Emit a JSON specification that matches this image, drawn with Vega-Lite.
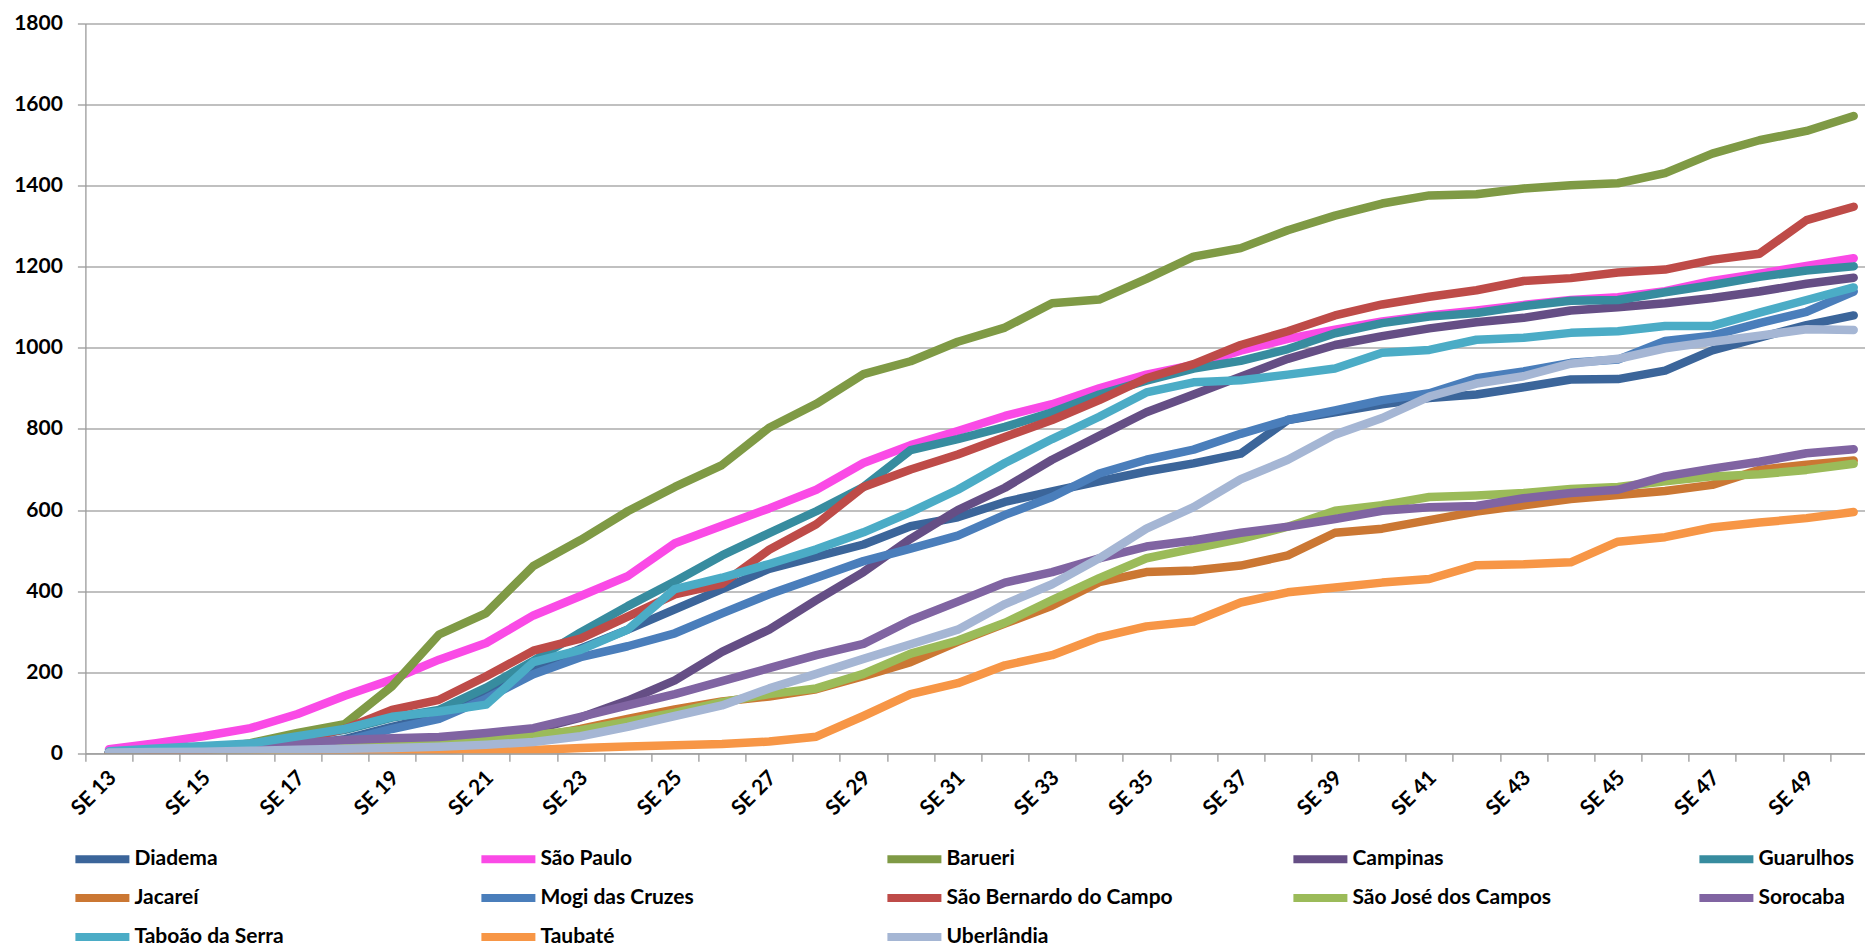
{
"$schema": "https://vega.github.io/schema/vega-lite/v6.json",
"autosize": "none",
"width": 1779.6,
"height": 729.8,
"padding": {"left": 85.4, "top": 23.5, "right": 0, "bottom": 195.7},
"background": "white",
"config": {"view": {"stroke": null}},
"datasets": {
"cases": [
{"city":"Diadema","week":13,"cases":3},{"city":"Diadema","week":14,"cases":5},{"city":"Diadema","week":15,"cases":8},{"city":"Diadema","week":16,"cases":12},{"city":"Diadema","week":17,"cases":20},{"city":"Diadema","week":18,"cases":35},{"city":"Diadema","week":19,"cases":65},{"city":"Diadema","week":20,"cases":92},{"city":"Diadema","week":21,"cases":145},{"city":"Diadema","week":22,"cases":210},{"city":"Diadema","week":23,"cases":258},{"city":"Diadema","week":24,"cases":305},{"city":"Diadema","week":25,"cases":355},{"city":"Diadema","week":26,"cases":405},{"city":"Diadema","week":27,"cases":455},{"city":"Diadema","week":28,"cases":485},{"city":"Diadema","week":29,"cases":515},{"city":"Diadema","week":30,"cases":560},{"city":"Diadema","week":31,"cases":582},{"city":"Diadema","week":32,"cases":620},{"city":"Diadema","week":33,"cases":646},{"city":"Diadema","week":34,"cases":671},{"city":"Diadema","week":35,"cases":695},{"city":"Diadema","week":36,"cases":715},{"city":"Diadema","week":37,"cases":739},{"city":"Diadema","week":38,"cases":822},{"city":"Diadema","week":39,"cases":841},{"city":"Diadema","week":40,"cases":861},{"city":"Diadema","week":41,"cases":876},{"city":"Diadema","week":42,"cases":885},{"city":"Diadema","week":43,"cases":903},{"city":"Diadema","week":44,"cases":922},{"city":"Diadema","week":45,"cases":923},{"city":"Diadema","week":46,"cases":944},{"city":"Diadema","week":47,"cases":994},{"city":"Diadema","week":48,"cases":1025},{"city":"Diadema","week":49,"cases":1056},{"city":"Diadema","week":50,"cases":1080},
{"city":"São Paulo","week":13,"cases":10},{"city":"São Paulo","week":14,"cases":25},{"city":"São Paulo","week":15,"cases":42},{"city":"São Paulo","week":16,"cases":62},{"city":"São Paulo","week":17,"cases":97},{"city":"São Paulo","week":18,"cases":142},{"city":"São Paulo","week":19,"cases":182},{"city":"São Paulo","week":20,"cases":231},{"city":"São Paulo","week":21,"cases":272},{"city":"São Paulo","week":22,"cases":340},{"city":"São Paulo","week":23,"cases":388},{"city":"São Paulo","week":24,"cases":437},{"city":"São Paulo","week":25,"cases":518},{"city":"São Paulo","week":26,"cases":561},{"city":"São Paulo","week":27,"cases":604},{"city":"São Paulo","week":28,"cases":650},{"city":"São Paulo","week":29,"cases":716},{"city":"São Paulo","week":30,"cases":760},{"city":"São Paulo","week":31,"cases":795},{"city":"São Paulo","week":32,"cases":832},{"city":"São Paulo","week":33,"cases":861},{"city":"São Paulo","week":34,"cases":900},{"city":"São Paulo","week":35,"cases":934},{"city":"São Paulo","week":36,"cases":958},{"city":"São Paulo","week":37,"cases":993},{"city":"São Paulo","week":38,"cases":1022},{"city":"São Paulo","week":39,"cases":1045},{"city":"São Paulo","week":40,"cases":1065},{"city":"São Paulo","week":41,"cases":1080},{"city":"São Paulo","week":42,"cases":1092},{"city":"São Paulo","week":43,"cases":1106},{"city":"São Paulo","week":44,"cases":1118},{"city":"São Paulo","week":45,"cases":1125},{"city":"São Paulo","week":46,"cases":1140},{"city":"São Paulo","week":47,"cases":1165},{"city":"São Paulo","week":48,"cases":1183},{"city":"São Paulo","week":49,"cases":1202},{"city":"São Paulo","week":50,"cases":1221},
{"city":"Barueri","week":13,"cases":0},{"city":"Barueri","week":14,"cases":3},{"city":"Barueri","week":15,"cases":8},{"city":"Barueri","week":16,"cases":25},{"city":"Barueri","week":17,"cases":50},{"city":"Barueri","week":18,"cases":72},{"city":"Barueri","week":19,"cases":165},{"city":"Barueri","week":20,"cases":293},{"city":"Barueri","week":21,"cases":346},{"city":"Barueri","week":22,"cases":462},{"city":"Barueri","week":23,"cases":526},{"city":"Barueri","week":24,"cases":597},{"city":"Barueri","week":25,"cases":657},{"city":"Barueri","week":26,"cases":711},{"city":"Barueri","week":27,"cases":803},{"city":"Barueri","week":28,"cases":862},{"city":"Barueri","week":29,"cases":935},{"city":"Barueri","week":30,"cases":967},{"city":"Barueri","week":31,"cases":1015},{"city":"Barueri","week":32,"cases":1050},{"city":"Barueri","week":33,"cases":1110},{"city":"Barueri","week":34,"cases":1119},{"city":"Barueri","week":35,"cases":1170},{"city":"Barueri","week":36,"cases":1225},{"city":"Barueri","week":37,"cases":1246},{"city":"Barueri","week":38,"cases":1290},{"city":"Barueri","week":39,"cases":1326},{"city":"Barueri","week":40,"cases":1356},{"city":"Barueri","week":41,"cases":1376},{"city":"Barueri","week":42,"cases":1379},{"city":"Barueri","week":43,"cases":1393},{"city":"Barueri","week":44,"cases":1401},{"city":"Barueri","week":45,"cases":1406},{"city":"Barueri","week":46,"cases":1431},{"city":"Barueri","week":47,"cases":1479},{"city":"Barueri","week":48,"cases":1512},{"city":"Barueri","week":49,"cases":1535},{"city":"Barueri","week":50,"cases":1572},
{"city":"Campinas","week":13,"cases":2},{"city":"Campinas","week":14,"cases":3},{"city":"Campinas","week":15,"cases":5},{"city":"Campinas","week":16,"cases":8},{"city":"Campinas","week":17,"cases":14},{"city":"Campinas","week":18,"cases":22},{"city":"Campinas","week":19,"cases":28},{"city":"Campinas","week":20,"cases":33},{"city":"Campinas","week":21,"cases":42},{"city":"Campinas","week":22,"cases":58},{"city":"Campinas","week":23,"cases":88},{"city":"Campinas","week":24,"cases":130},{"city":"Campinas","week":25,"cases":180},{"city":"Campinas","week":26,"cases":250},{"city":"Campinas","week":27,"cases":305},{"city":"Campinas","week":28,"cases":378},{"city":"Campinas","week":29,"cases":447},{"city":"Campinas","week":30,"cases":529},{"city":"Campinas","week":31,"cases":600},{"city":"Campinas","week":32,"cases":655},{"city":"Campinas","week":33,"cases":724},{"city":"Campinas","week":34,"cases":783},{"city":"Campinas","week":35,"cases":841},{"city":"Campinas","week":36,"cases":885},{"city":"Campinas","week":37,"cases":929},{"city":"Campinas","week":38,"cases":973},{"city":"Campinas","week":39,"cases":1007},{"city":"Campinas","week":40,"cases":1029},{"city":"Campinas","week":41,"cases":1048},{"city":"Campinas","week":42,"cases":1063},{"city":"Campinas","week":43,"cases":1074},{"city":"Campinas","week":44,"cases":1092},{"city":"Campinas","week":45,"cases":1100},{"city":"Campinas","week":46,"cases":1110},{"city":"Campinas","week":47,"cases":1123},{"city":"Campinas","week":48,"cases":1139},{"city":"Campinas","week":49,"cases":1158},{"city":"Campinas","week":50,"cases":1173},
{"city":"Guarulhos","week":13,"cases":3},{"city":"Guarulhos","week":14,"cases":8},{"city":"Guarulhos","week":15,"cases":14},{"city":"Guarulhos","week":16,"cases":20},{"city":"Guarulhos","week":17,"cases":38},{"city":"Guarulhos","week":18,"cases":58},{"city":"Guarulhos","week":19,"cases":88},{"city":"Guarulhos","week":20,"cases":107},{"city":"Guarulhos","week":21,"cases":162},{"city":"Guarulhos","week":22,"cases":228},{"city":"Guarulhos","week":23,"cases":298},{"city":"Guarulhos","week":24,"cases":363},{"city":"Guarulhos","week":25,"cases":424},{"city":"Guarulhos","week":26,"cases":488},{"city":"Guarulhos","week":27,"cases":543},{"city":"Guarulhos","week":28,"cases":597},{"city":"Guarulhos","week":29,"cases":657},{"city":"Guarulhos","week":30,"cases":748},{"city":"Guarulhos","week":31,"cases":775},{"city":"Guarulhos","week":32,"cases":805},{"city":"Guarulhos","week":33,"cases":841},{"city":"Guarulhos","week":34,"cases":885},{"city":"Guarulhos","week":35,"cases":919},{"city":"Guarulhos","week":36,"cases":949},{"city":"Guarulhos","week":37,"cases":968},{"city":"Guarulhos","week":38,"cases":997},{"city":"Guarulhos","week":39,"cases":1036},{"city":"Guarulhos","week":40,"cases":1061},{"city":"Guarulhos","week":41,"cases":1077},{"city":"Guarulhos","week":42,"cases":1086},{"city":"Guarulhos","week":43,"cases":1103},{"city":"Guarulhos","week":44,"cases":1116},{"city":"Guarulhos","week":45,"cases":1118},{"city":"Guarulhos","week":46,"cases":1137},{"city":"Guarulhos","week":47,"cases":1155},{"city":"Guarulhos","week":48,"cases":1175},{"city":"Guarulhos","week":49,"cases":1191},{"city":"Guarulhos","week":50,"cases":1201},
{"city":"Jacareí","week":13,"cases":0},{"city":"Jacareí","week":14,"cases":0},{"city":"Jacareí","week":15,"cases":0},{"city":"Jacareí","week":16,"cases":0},{"city":"Jacareí","week":17,"cases":0},{"city":"Jacareí","week":18,"cases":1},{"city":"Jacareí","week":19,"cases":3},{"city":"Jacareí","week":20,"cases":6},{"city":"Jacareí","week":21,"cases":18},{"city":"Jacareí","week":22,"cases":38},{"city":"Jacareí","week":23,"cases":60},{"city":"Jacareí","week":24,"cases":85},{"city":"Jacareí","week":25,"cases":108},{"city":"Jacareí","week":26,"cases":128},{"city":"Jacareí","week":27,"cases":140},{"city":"Jacareí","week":28,"cases":158},{"city":"Jacareí","week":29,"cases":190},{"city":"Jacareí","week":30,"cases":225},{"city":"Jacareí","week":31,"cases":275},{"city":"Jacareí","week":32,"cases":320},{"city":"Jacareí","week":33,"cases":364},{"city":"Jacareí","week":34,"cases":422},{"city":"Jacareí","week":35,"cases":447},{"city":"Jacareí","week":36,"cases":451},{"city":"Jacareí","week":37,"cases":463},{"city":"Jacareí","week":38,"cases":488},{"city":"Jacareí","week":39,"cases":544},{"city":"Jacareí","week":40,"cases":554},{"city":"Jacareí","week":41,"cases":575},{"city":"Jacareí","week":42,"cases":596},{"city":"Jacareí","week":43,"cases":612},{"city":"Jacareí","week":44,"cases":627},{"city":"Jacareí","week":45,"cases":637},{"city":"Jacareí","week":46,"cases":647},{"city":"Jacareí","week":47,"cases":662},{"city":"Jacareí","week":48,"cases":699},{"city":"Jacareí","week":49,"cases":712},{"city":"Jacareí","week":50,"cases":722},
{"city":"Mogi das Cruzes","week":13,"cases":2},{"city":"Mogi das Cruzes","week":14,"cases":4},{"city":"Mogi das Cruzes","week":15,"cases":7},{"city":"Mogi das Cruzes","week":16,"cases":10},{"city":"Mogi das Cruzes","week":17,"cases":18},{"city":"Mogi das Cruzes","week":18,"cases":30},{"city":"Mogi das Cruzes","week":19,"cases":60},{"city":"Mogi das Cruzes","week":20,"cases":85},{"city":"Mogi das Cruzes","week":21,"cases":135},{"city":"Mogi das Cruzes","week":22,"cases":195},{"city":"Mogi das Cruzes","week":23,"cases":237},{"city":"Mogi das Cruzes","week":24,"cases":264},{"city":"Mogi das Cruzes","week":25,"cases":296},{"city":"Mogi das Cruzes","week":26,"cases":345},{"city":"Mogi das Cruzes","week":27,"cases":392},{"city":"Mogi das Cruzes","week":28,"cases":433},{"city":"Mogi das Cruzes","week":29,"cases":474},{"city":"Mogi das Cruzes","week":30,"cases":505},{"city":"Mogi das Cruzes","week":31,"cases":537},{"city":"Mogi das Cruzes","week":32,"cases":588},{"city":"Mogi das Cruzes","week":33,"cases":632},{"city":"Mogi das Cruzes","week":34,"cases":690},{"city":"Mogi das Cruzes","week":35,"cases":724},{"city":"Mogi das Cruzes","week":36,"cases":749},{"city":"Mogi das Cruzes","week":37,"cases":788},{"city":"Mogi das Cruzes","week":38,"cases":822},{"city":"Mogi das Cruzes","week":39,"cases":846},{"city":"Mogi das Cruzes","week":40,"cases":871},{"city":"Mogi das Cruzes","week":41,"cases":888},{"city":"Mogi das Cruzes","week":42,"cases":925},{"city":"Mogi das Cruzes","week":43,"cases":942},{"city":"Mogi das Cruzes","week":44,"cases":963},{"city":"Mogi das Cruzes","week":45,"cases":971},{"city":"Mogi das Cruzes","week":46,"cases":1017},{"city":"Mogi das Cruzes","week":47,"cases":1030},{"city":"Mogi das Cruzes","week":48,"cases":1061},{"city":"Mogi das Cruzes","week":49,"cases":1089},{"city":"Mogi das Cruzes","week":50,"cases":1139},
{"city":"São Bernardo do Campo","week":13,"cases":2},{"city":"São Bernardo do Campo","week":14,"cases":5},{"city":"São Bernardo do Campo","week":15,"cases":9},{"city":"São Bernardo do Campo","week":16,"cases":16},{"city":"São Bernardo do Campo","week":17,"cases":32},{"city":"São Bernardo do Campo","week":18,"cases":60},{"city":"São Bernardo do Campo","week":19,"cases":107},{"city":"São Bernardo do Campo","week":20,"cases":132},{"city":"São Bernardo do Campo","week":21,"cases":190},{"city":"São Bernardo do Campo","week":22,"cases":253},{"city":"São Bernardo do Campo","week":23,"cases":283},{"city":"São Bernardo do Campo","week":24,"cases":337},{"city":"São Bernardo do Campo","week":25,"cases":392},{"city":"São Bernardo do Campo","week":26,"cases":418},{"city":"São Bernardo do Campo","week":27,"cases":502},{"city":"São Bernardo do Campo","week":28,"cases":565},{"city":"São Bernardo do Campo","week":29,"cases":657},{"city":"São Bernardo do Campo","week":30,"cases":700},{"city":"São Bernardo do Campo","week":31,"cases":737},{"city":"São Bernardo do Campo","week":32,"cases":780},{"city":"São Bernardo do Campo","week":33,"cases":822},{"city":"São Bernardo do Campo","week":34,"cases":871},{"city":"São Bernardo do Campo","week":35,"cases":925},{"city":"São Bernardo do Campo","week":36,"cases":960},{"city":"São Bernardo do Campo","week":37,"cases":1007},{"city":"São Bernardo do Campo","week":38,"cases":1041},{"city":"São Bernardo do Campo","week":39,"cases":1080},{"city":"São Bernardo do Campo","week":40,"cases":1107},{"city":"São Bernardo do Campo","week":41,"cases":1126},{"city":"São Bernardo do Campo","week":42,"cases":1142},{"city":"São Bernardo do Campo","week":43,"cases":1165},{"city":"São Bernardo do Campo","week":44,"cases":1172},{"city":"São Bernardo do Campo","week":45,"cases":1186},{"city":"São Bernardo do Campo","week":46,"cases":1193},{"city":"São Bernardo do Campo","week":47,"cases":1217},{"city":"São Bernardo do Campo","week":48,"cases":1232},{"city":"São Bernardo do Campo","week":49,"cases":1315},{"city":"São Bernardo do Campo","week":50,"cases":1348},
{"city":"São José dos Campos","week":13,"cases":1},{"city":"São José dos Campos","week":14,"cases":2},{"city":"São José dos Campos","week":15,"cases":4},{"city":"São José dos Campos","week":16,"cases":6},{"city":"São José dos Campos","week":17,"cases":10},{"city":"São José dos Campos","week":18,"cases":14},{"city":"São José dos Campos","week":19,"cases":20},{"city":"São José dos Campos","week":20,"cases":25},{"city":"São José dos Campos","week":21,"cases":36},{"city":"São José dos Campos","week":22,"cases":45},{"city":"São José dos Campos","week":23,"cases":57},{"city":"São José dos Campos","week":24,"cases":78},{"city":"São José dos Campos","week":25,"cases":100},{"city":"São José dos Campos","week":26,"cases":126},{"city":"São José dos Campos","week":27,"cases":146},{"city":"São José dos Campos","week":28,"cases":160},{"city":"São José dos Campos","week":29,"cases":196},{"city":"São José dos Campos","week":30,"cases":246},{"city":"São José dos Campos","week":31,"cases":278},{"city":"São José dos Campos","week":32,"cases":322},{"city":"São José dos Campos","week":33,"cases":378},{"city":"São José dos Campos","week":34,"cases":432},{"city":"São José dos Campos","week":35,"cases":481},{"city":"São José dos Campos","week":36,"cases":505},{"city":"São José dos Campos","week":37,"cases":529},{"city":"São José dos Campos","week":38,"cases":559},{"city":"São José dos Campos","week":39,"cases":598},{"city":"São José dos Campos","week":40,"cases":612},{"city":"São José dos Campos","week":41,"cases":632},{"city":"São José dos Campos","week":42,"cases":636},{"city":"São José dos Campos","week":43,"cases":642},{"city":"São José dos Campos","week":44,"cases":652},{"city":"São José dos Campos","week":45,"cases":657},{"city":"São José dos Campos","week":46,"cases":671},{"city":"São José dos Campos","week":47,"cases":683},{"city":"São José dos Campos","week":48,"cases":688},{"city":"São José dos Campos","week":49,"cases":699},{"city":"São José dos Campos","week":50,"cases":714},
{"city":"Sorocaba","week":13,"cases":3},{"city":"Sorocaba","week":14,"cases":6},{"city":"Sorocaba","week":15,"cases":10},{"city":"Sorocaba","week":16,"cases":15},{"city":"Sorocaba","week":17,"cases":25},{"city":"Sorocaba","week":18,"cases":33},{"city":"Sorocaba","week":19,"cases":37},{"city":"Sorocaba","week":20,"cases":40},{"city":"Sorocaba","week":21,"cases":50},{"city":"Sorocaba","week":22,"cases":62},{"city":"Sorocaba","week":23,"cases":90},{"city":"Sorocaba","week":24,"cases":118},{"city":"Sorocaba","week":25,"cases":146},{"city":"Sorocaba","week":26,"cases":178},{"city":"Sorocaba","week":27,"cases":210},{"city":"Sorocaba","week":28,"cases":242},{"city":"Sorocaba","week":29,"cases":270},{"city":"Sorocaba","week":30,"cases":328},{"city":"Sorocaba","week":31,"cases":374},{"city":"Sorocaba","week":32,"cases":421},{"city":"Sorocaba","week":33,"cases":447},{"city":"Sorocaba","week":34,"cases":481},{"city":"Sorocaba","week":35,"cases":510},{"city":"Sorocaba","week":36,"cases":525},{"city":"Sorocaba","week":37,"cases":544},{"city":"Sorocaba","week":38,"cases":559},{"city":"Sorocaba","week":39,"cases":578},{"city":"Sorocaba","week":40,"cases":598},{"city":"Sorocaba","week":41,"cases":607},{"city":"Sorocaba","week":42,"cases":610},{"city":"Sorocaba","week":43,"cases":629},{"city":"Sorocaba","week":44,"cases":642},{"city":"Sorocaba","week":45,"cases":650},{"city":"Sorocaba","week":46,"cases":683},{"city":"Sorocaba","week":47,"cases":702},{"city":"Sorocaba","week":48,"cases":719},{"city":"Sorocaba","week":49,"cases":740},{"city":"Sorocaba","week":50,"cases":750},
{"city":"Taboão da Serra","week":13,"cases":5},{"city":"Taboão da Serra","week":14,"cases":12},{"city":"Taboão da Serra","week":15,"cases":18},{"city":"Taboão da Serra","week":16,"cases":24},{"city":"Taboão da Serra","week":17,"cases":42},{"city":"Taboão da Serra","week":18,"cases":60},{"city":"Taboão da Serra","week":19,"cases":90},{"city":"Taboão da Serra","week":20,"cases":103},{"city":"Taboão da Serra","week":21,"cases":120},{"city":"Taboão da Serra","week":22,"cases":225},{"city":"Taboão da Serra","week":23,"cases":255},{"city":"Taboão da Serra","week":24,"cases":305},{"city":"Taboão da Serra","week":25,"cases":405},{"city":"Taboão da Serra","week":26,"cases":433},{"city":"Taboão da Serra","week":27,"cases":467},{"city":"Taboão da Serra","week":28,"cases":503},{"city":"Taboão da Serra","week":29,"cases":545},{"city":"Taboão da Serra","week":30,"cases":595},{"city":"Taboão da Serra","week":31,"cases":650},{"city":"Taboão da Serra","week":32,"cases":716},{"city":"Taboão da Serra","week":33,"cases":775},{"city":"Taboão da Serra","week":34,"cases":830},{"city":"Taboão da Serra","week":35,"cases":890},{"city":"Taboão da Serra","week":36,"cases":915},{"city":"Taboão da Serra","week":37,"cases":920},{"city":"Taboão da Serra","week":38,"cases":934},{"city":"Taboão da Serra","week":39,"cases":949},{"city":"Taboão da Serra","week":40,"cases":988},{"city":"Taboão da Serra","week":41,"cases":995},{"city":"Taboão da Serra","week":42,"cases":1020},{"city":"Taboão da Serra","week":43,"cases":1025},{"city":"Taboão da Serra","week":44,"cases":1037},{"city":"Taboão da Serra","week":45,"cases":1041},{"city":"Taboão da Serra","week":46,"cases":1054},{"city":"Taboão da Serra","week":47,"cases":1054},{"city":"Taboão da Serra","week":48,"cases":1087},{"city":"Taboão da Serra","week":49,"cases":1118},{"city":"Taboão da Serra","week":50,"cases":1149},
{"city":"Taubaté","week":13,"cases":0},{"city":"Taubaté","week":14,"cases":0},{"city":"Taubaté","week":15,"cases":0},{"city":"Taubaté","week":16,"cases":0},{"city":"Taubaté","week":17,"cases":0},{"city":"Taubaté","week":18,"cases":0},{"city":"Taubaté","week":19,"cases":1},{"city":"Taubaté","week":20,"cases":2},{"city":"Taubaté","week":21,"cases":4},{"city":"Taubaté","week":22,"cases":8},{"city":"Taubaté","week":23,"cases":13},{"city":"Taubaté","week":24,"cases":17},{"city":"Taubaté","week":25,"cases":20},{"city":"Taubaté","week":26,"cases":23},{"city":"Taubaté","week":27,"cases":29},{"city":"Taubaté","week":28,"cases":41},{"city":"Taubaté","week":29,"cases":92},{"city":"Taubaté","week":30,"cases":146},{"city":"Taubaté","week":31,"cases":173},{"city":"Taubaté","week":32,"cases":217},{"city":"Taubaté","week":33,"cases":242},{"city":"Taubaté","week":34,"cases":286},{"city":"Taubaté","week":35,"cases":313},{"city":"Taubaté","week":36,"cases":325},{"city":"Taubaté","week":37,"cases":372},{"city":"Taubaté","week":38,"cases":397},{"city":"Taubaté","week":39,"cases":409},{"city":"Taubaté","week":40,"cases":421},{"city":"Taubaté","week":41,"cases":430},{"city":"Taubaté","week":42,"cases":464},{"city":"Taubaté","week":43,"cases":466},{"city":"Taubaté","week":44,"cases":471},{"city":"Taubaté","week":45,"cases":522},{"city":"Taubaté","week":46,"cases":533},{"city":"Taubaté","week":47,"cases":557},{"city":"Taubaté","week":48,"cases":569},{"city":"Taubaté","week":49,"cases":580},{"city":"Taubaté","week":50,"cases":595},
{"city":"Uberlândia","week":13,"cases":2},{"city":"Uberlândia","week":14,"cases":3},{"city":"Uberlândia","week":15,"cases":4},{"city":"Uberlândia","week":16,"cases":6},{"city":"Uberlândia","week":17,"cases":9},{"city":"Uberlândia","week":18,"cases":11},{"city":"Uberlândia","week":19,"cases":13},{"city":"Uberlândia","week":20,"cases":16},{"city":"Uberlândia","week":21,"cases":21},{"city":"Uberlândia","week":22,"cases":28},{"city":"Uberlândia","week":23,"cases":42},{"city":"Uberlândia","week":24,"cases":65},{"city":"Uberlândia","week":25,"cases":92},{"city":"Uberlândia","week":26,"cases":118},{"city":"Uberlândia","week":27,"cases":160},{"city":"Uberlândia","week":28,"cases":196},{"city":"Uberlândia","week":29,"cases":233},{"city":"Uberlândia","week":30,"cases":269},{"city":"Uberlândia","week":31,"cases":305},{"city":"Uberlândia","week":32,"cases":368},{"city":"Uberlândia","week":33,"cases":417},{"city":"Uberlândia","week":34,"cases":481},{"city":"Uberlândia","week":35,"cases":554},{"city":"Uberlândia","week":36,"cases":607},{"city":"Uberlândia","week":37,"cases":676},{"city":"Uberlândia","week":38,"cases":724},{"city":"Uberlândia","week":39,"cases":786},{"city":"Uberlândia","week":40,"cases":827},{"city":"Uberlândia","week":41,"cases":880},{"city":"Uberlândia","week":42,"cases":912},{"city":"Uberlândia","week":43,"cases":930},{"city":"Uberlândia","week":44,"cases":961},{"city":"Uberlândia","week":45,"cases":973},{"city":"Uberlândia","week":46,"cases":999},{"city":"Uberlândia","week":47,"cases":1015},{"city":"Uberlândia","week":48,"cases":1030},{"city":"Uberlândia","week":49,"cases":1046},{"city":"Uberlândia","week":50,"cases":1044}
]
},
"data": {"name": "cases"},
"mark": {"type": "line", "strokeWidth": 8.5, "strokeCap": "round", "strokeJoin": "round", "clip": true},
"encoding": {
"x": {
"field": "week", "type": "quantitative",
"scale": {"domain": [12.5, 50.24], "nice": false, "zero": false},
"axis": {
"title": null, "grid": false,
"values": [12.5,13.5,14.5,15.5,16.5,17.5,18.5,19.5,20.5,21.5,22.5,23.5,24.5,25.5,26.5,27.5,28.5,29.5,30.5,31.5,32.5,33.5,34.5,35.5,36.5,37.5,38.5,39.5,40.5,41.5,42.5,43.5,44.5,45.5,46.5,47.5,48.5,49.5],
"labelExpr": "((datum.value - 0.5) % 2 == 1 && datum.value < 50) ? 'SE ' + (datum.value - 0.5) : ''",
"labelAngle": -45, "labelAlign": "right", "labelBaseline": "middle",
"labelOffset": -20, "labelPadding": 13,
"labelOverlap": false, "labelFlush": false, "labelBound": false,
"labelFont": "Lato", "labelFontSize": 21, "labelFontWeight": "bold", "labelColor": "#000000",
"tickSize": 8, "tickColor": "#9A9A9A", "tickWidth": 1.3,
"domainColor": "#9A9A9A", "domainWidth": 1.3
}
},
"y": {
"field": "cases", "type": "quantitative",
"scale": {"domain": [0, 1800], "nice": false},
"axis": {
"title": null, "format": "d",
"values": [0,200,400,600,800,1000,1200,1400,1600,1800],
"grid": true, "gridColor": "#ABABAB", "gridWidth": 1.3,
"labelFont": "Lato", "labelFontSize": 21, "labelFontWeight": "bold", "labelColor": "#000000",
"labelPadding": 15,
"tickSize": 8, "tickColor": "#9A9A9A", "tickWidth": 1.3,
"domainColor": "#9A9A9A", "domainWidth": 1.3
}
},
"color": {
"field": "city", "type": "nominal",
"scale": {
"domain": ["Diadema","São Paulo","Barueri","Campinas","Guarulhos","Jacareí","Mogi das Cruzes","São Bernardo do Campo","São José dos Campos","Sorocaba","Taboão da Serra","Taubaté","Uberlândia"],
"range": ["#3B659A","#FA4AE6","#7F9A45","#654E85","#378C9F","#CB7733","#4A7EBB","#BE4B48","#9BBB59","#8064A2","#4BACC6","#F79646","#A5B6D4"]
},
"legend": {
"title": null, "orient": "none", "legendX": -14, "legendY": 818,
"direction": "horizontal", "columns": 5, "gridAlign": "all",
"columnPadding": 104, "rowPadding": 5, "padding": 0,
"symbolType": "M-1,0H3", "symbolSize": 729, "symbolStrokeWidth": 8,
"labelFont": "Lato", "labelFontSize": 21, "labelFontWeight": "bold", "labelColor": "#000000",
"labelOffset": 28, "labelLimit": 400
}
}
}
}
